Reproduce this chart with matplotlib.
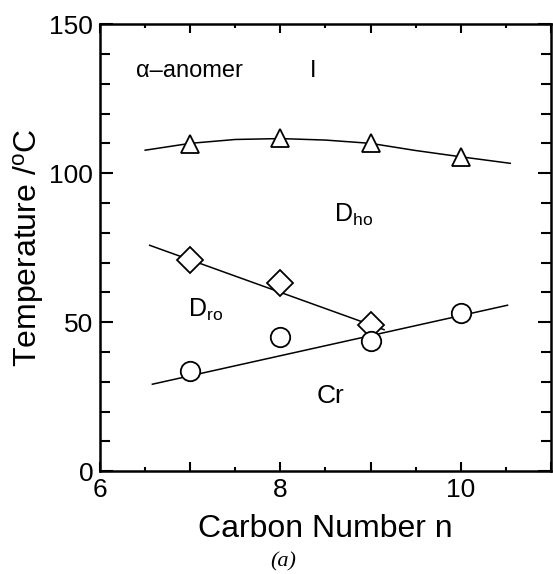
import matplotlib
matplotlib.use("Agg")
import matplotlib.pyplot as plt
from matplotlib.ticker import MultipleLocator, FuncFormatter

plt.rcParams['font.family'] = ['Liberation Sans', 'DejaVu Sans']
plt.rcParams['mathtext.fontset'] = 'custom'
plt.rcParams['mathtext.rm'] = 'Liberation Sans'

# measured points
n_tri = [7, 8, 9, 10]
t_tri = [109.8, 111.8, 110.0, 105.5]
n_dia = [7, 8, 9]
t_dia = [71.0, 63.0, 49.0]
n_circ = [7, 8, 9, 10]
t_circ = [33.7, 45.0, 43.7, 53.0]

# guide lines
tri_line_n = [6.5, 7.0, 7.5, 8.0, 8.5, 9.0, 9.5, 10.0, 10.55]
tri_line_t = [107.7, 110.0, 111.3, 111.6, 111.1, 110.0, 107.6, 105.5, 103.3]
dia_line_n = [6.55, 9.15]
dia_line_t = [75.8, 47.5]
circ_line_n = [6.58, 10.52]
circ_line_t = [29.2, 55.7]

fig = plt.figure(figsize=(5.53, 5.74), dpi=100)
ax = fig.add_axes([0.181, 0.179, 0.815, 0.779])

lw = 1.1
ax.plot(tri_line_n, tri_line_t, color='black', lw=lw)
ax.plot(dia_line_n, dia_line_t, color='black', lw=lw)
ax.plot(circ_line_n, circ_line_t, color='black', lw=lw)

ax.plot(n_tri, t_tri, '^', ms=13.5, mfc='white', mec='black', mew=1.3, ls='none')
ax.plot(n_dia, t_dia, 'D', ms=13.5, mfc='white', mec='black', mew=1.3, ls='none')
ax.plot(n_circ, t_circ, 'o', ms=14, mfc='white', mec='black', mew=1.3, ls='none')

ax.set_xlim(6, 11)
ax.set_ylim(0, 150)

ax.xaxis.set_major_locator(MultipleLocator(1))
ax.xaxis.set_minor_locator(MultipleLocator(0.5))
ax.xaxis.set_major_formatter(FuncFormatter(lambda v, p: f"{int(v)}" if int(round(v)) % 2 == 0 and v < 11 else ""))
ax.yaxis.set_major_locator(MultipleLocator(50))
ax.yaxis.set_minor_locator(MultipleLocator(10))

ax.tick_params(axis='both', which='both', direction='in', top=True, right=True,
               width=1.5, labelsize=19, pad=5)
ax.tick_params(axis='x', which='major', length=6.5)
ax.tick_params(axis='x', which='minor', length=3)
ax.tick_params(axis='y', which='major', length=9.5)
ax.tick_params(axis='y', which='minor', length=7)
for s in ax.spines.values():
    s.set_linewidth(1.8)

ax.set_xlabel('Carbon Number n', fontsize=23, labelpad=8.5)
ax.set_ylabel('Temperature /$\\mathregular{^{o}}$C', fontsize=23)
ax.yaxis.set_label_coords(-0.12, 0.5)

ax.text(6.40, 132.3, '\u03b1\u2013anomer', fontsize=17)
ax.text(8.33, 132.3, 'I', fontsize=17)
ax.text(8.59, 83.7, 'D$\\mathregular{_{ho}}$', fontsize=18)
ax.text(6.98, 51.8, 'D$\\mathregular{_{ro}}$', fontsize=18)
ax.text(8.40, 22.8, 'Cr', fontsize=19)

fig.text(0.512, 0.021, '(a)', fontsize=16, style='italic', family='Liberation Serif',
         ha='center', va='center')

fig.savefig('out.png', dpi=100)
